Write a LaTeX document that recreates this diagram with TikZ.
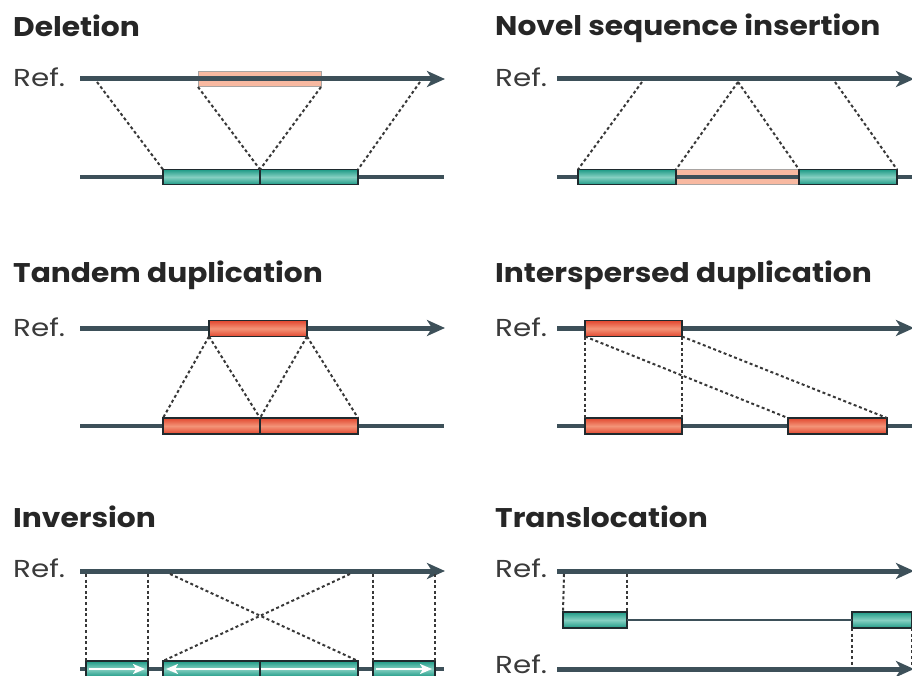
\documentclass[tikz,border=0pt]{standalone}
\usepackage{fontspec}
\setmainfont{Poppins}
\newfontfamily\titlefont[FakeStretch=1.1]{Poppins}
\newfontfamily\reffont[FakeStretch=1.2]{Poppins}
\usetikzlibrary{arrows.meta}
\definecolor{chrom}{HTML}{3D5059}
\definecolor{edgec}{HTML}{1F2A2E}
\definecolor{linkc}{HTML}{383838}
\definecolor{tealD}{HTML}{1E9A86}
\definecolor{tealL}{HTML}{86D0C2}
\definecolor{redD}{HTML}{E2472F}
\definecolor{redL}{HTML}{F39478}
\definecolor{pinkF}{HTML}{F8B9A1}
\definecolor{pinkE}{HTML}{A8A4A2}
\definecolor{titlec}{HTML}{262626}
\definecolor{refc}{HTML}{3A3A3A}
\begin{document}
\begin{tikzpicture}[x=1pt,y=-1pt,
  title/.style={anchor=base west, inner sep=0pt, text=titlec,
    font=\titlefont\bfseries\fontsize{27}{31}\selectfont},
  reflabel/.style={anchor=base west, inner sep=0pt, text=refc,
    font=\reffont\fontsize{24.5}{28}\selectfont},
  refline/.style={draw=chrom, line width=5pt,
    -{Stealth[length=18pt,width=16pt,inset=5pt]}},
  chromline/.style={draw=chrom, line width=4.5pt},
  thinline/.style={draw=chrom, line width=1.5pt},
  seg/.style={rectangle, inner sep=0pt, outer sep=0pt, minimum height=15pt,
    draw=edgec, line width=1.2pt},
  tealbox/.style={seg, top color=tealD, bottom color=tealD, middle color=tealL},
  redbox/.style={seg, minimum height=16pt, top color=redD, bottom color=redD, middle color=redL},
  pinkbox/.style={seg, fill=pinkF, draw=pinkE, line width=1pt},
  link/.style={draw=linkc, line width=2pt, dash pattern=on 3pt off 2.6pt},
  whitearrow/.style={draw=white, line width=2pt,
    -{Stealth[length=12pt,width=10pt,inset=3pt]}},
]
\useasboundingbox (0,0) rectangle (912,676);
\clip (0,0) rectangle (912,676);

% ---------------- Deletion ----------------
\node[title] (tdel) at (13,37) {Deletion};
\node[reflabel] (rdel) at (13,87) {Ref.};
\coordinate (del-s) at (80,79);
\coordinate (del-e) at (445,79);
\coordinate (delb-s) at (80,177);
\coordinate (delb-e) at (444,177);
\node[pinkbox, minimum width=123pt] (delp) at (259.5,79.5) {};
\draw[refline] (del-s) -- (del-e);
\draw[chromline] (delb-s) -- (delb-e);
\node[tealbox, minimum width=97pt] (dela) at (211.5,177) {};
\node[tealbox, minimum width=98pt] (delb) at (309,177) {};
\coordinate (del-p1) at (97,82);
\coordinate (del-p2) at (420,82);
\draw[link] (del-p1) -- (dela.north west);
\draw[link] (delp.south west) -- (dela.north east);
\draw[link] (delp.south east) -- (delb.north west);
\draw[link] (del-p2) -- (delb.north east);

% ---------------- Novel sequence insertion ----------------
\node[title] (tins) at (495,36) {Novel sequence insertion};
\node[reflabel] (rins) at (495,87) {Ref.};
\coordinate (ins-s) at (557,79);
\coordinate (ins-e) at (914,79);
\coordinate (insb-s) at (557,177);
\coordinate (insb-e) at (914,177);
\draw[refline] (ins-s) -- (ins-e);
\node[pinkbox, minimum width=123pt] (insp) at (737.5,177.5) {};
\draw[chromline] (insb-s) -- (insb-e);
\node[tealbox, minimum width=98pt] (insa) at (627,177) {};
\node[tealbox, minimum width=98pt] (insb) at (848,177) {};
\coordinate (ins-p1) at (642,82);
\coordinate (ins-p2) at (738,82);
\coordinate (ins-p3) at (835,82);
\draw[link] (ins-p1) -- (insa.north west);
\draw[link] (ins-p2) -- (insa.north east);
\draw[link] (ins-p2) -- (insb.north west);
\draw[link] (ins-p3) -- (insb.north east);

% ---------------- Tandem duplication ----------------
\node[title] (ttan) at (13,282) {Tandem duplication};
\node[reflabel] (rtan) at (13,336) {Ref.};
\coordinate (tan-s) at (80,328);
\coordinate (tan-e) at (445,328);
\coordinate (tanb-s) at (80,426);
\coordinate (tanb-e) at (444,426);
\draw[refline] (tan-s) -- (tan-e);
\draw[chromline] (tanb-s) -- (tanb-e);
\node[redbox, minimum width=98pt] (tanr) at (258,328.5) {};
\node[redbox, minimum width=97pt] (tana) at (211.5,426) {};
\node[redbox, minimum width=98pt] (tanb) at (309,426) {};
\draw[link] (tanr.south west) -- (tana.north west);
\draw[link] (tanr.south west) -- (tana.north east);
\draw[link] (tanr.south east) -- (tanb.north west);
\draw[link] (tanr.south east) -- (tanb.north east);

% ---------------- Interspersed duplication ----------------
\node[title] (tisp) at (495,282) {Interspersed duplication};
\node[reflabel] (risp) at (495,336) {Ref.};
\coordinate (isp-s) at (557,328);
\coordinate (isp-e) at (914,328);
\coordinate (ispb-s) at (557,426);
\coordinate (ispb-e) at (914,426);
\draw[refline] (isp-s) -- (isp-e);
\draw[chromline] (ispb-s) -- (ispb-e);
\node[redbox, minimum width=97pt] (ispr) at (633.5,328.5) {};
\node[redbox, minimum width=97pt] (ispa) at (633.5,426) {};
\node[redbox, minimum width=99pt] (ispb) at (837.5,426) {};
\draw[link] (ispr.south west) -- (ispa.north west);
\draw[link] (ispr.south east) -- (ispa.north east);
\draw[link] (ispr.south west) -- (ispb.north west);
\draw[link] (ispr.south east) -- (ispb.north east);

% ---------------- Inversion ----------------
\node[title] (tinv) at (13,527) {Inversion};
\node[reflabel] (rinv) at (13,577) {Ref.};
\coordinate (inv-s) at (80,571);
\coordinate (inv-e) at (445,571);
\coordinate (invb-s) at (80,669);
\coordinate (invb-e) at (444,669);
\draw[refline] (inv-s) -- (inv-e);
\draw[chromline] (invb-s) -- (invb-e);
\node[tealbox, minimum width=62pt, minimum height=16pt] (inva) at (117,669) {};
\node[tealbox, minimum width=97pt, minimum height=16pt] (invb) at (211.5,669) {};
\node[tealbox, minimum width=98pt, minimum height=16pt] (invc) at (309,669) {};
\node[tealbox, minimum width=62pt, minimum height=16pt] (invd) at (404,669) {};
\draw[whitearrow] ([xshift=3pt]inva.west) -- ([xshift=-3pt]inva.east);
\draw[whitearrow] ([xshift=-3pt]invc.east) -- ([xshift=3pt]invb.west);
\draw[whitearrow] ([xshift=3pt]invd.west) -- ([xshift=-3pt]invd.east);
\draw[draw=edgec, line width=1.2pt] (invb.north east) -- (invb.south east);
\coordinate (inv-p1) at (86,574);
\coordinate (inv-p2) at (148,574);
\coordinate (inv-p3) at (170,574);
\coordinate (inv-p4) at (350,574);
\coordinate (inv-p5) at (373,574);
\coordinate (inv-p6) at (435,574);
\draw[link] (inv-p1) -- (inva.north west);
\draw[link] (inv-p2) -- (inva.north east);
\draw[link] (inv-p3) -- (invc.north east);
\draw[link] (inv-p4) -- (invb.north west);
\draw[link] (inv-p5) -- (invd.north west);
\draw[link] (inv-p6) -- (invd.north east);

% ---------------- Translocation ----------------
\node[title] (ttrl) at (495,527) {Translocation};
\node[reflabel] (rtrl1) at (495,577) {Ref.};
\node[reflabel] (rtrl2) at (495,673) {Ref.};
\coordinate (trl-s) at (557,571);
\coordinate (trl-e) at (914,571);
\coordinate (trlb-s) at (557,669);
\coordinate (trlb-e) at (914,669);
\draw[refline] (trl-s) -- (trl-e);
\draw[refline] (trlb-s) -- (trlb-e);
\node[tealbox, minimum width=64pt, minimum height=16pt] (trla) at (595,620) {};
\node[tealbox, minimum width=60pt, minimum height=16pt] (trlb) at (882,620) {};
\draw[thinline] (trla.east) -- (trlb.west);
\coordinate (trl-p1) at (564,574);
\coordinate (trl-p2) at (627,574);
\coordinate (trl-p3) at (852,667);
\coordinate (trl-p4) at (912,667);
\draw[link] (trl-p1) -- (trla.north west);
\draw[link] (trl-p2) -- (trla.north east);
\draw[link] (trlb.south west) -- (trl-p3);
\draw[link] (trlb.south east) -- (trl-p4);
\end{tikzpicture}
\end{document}
